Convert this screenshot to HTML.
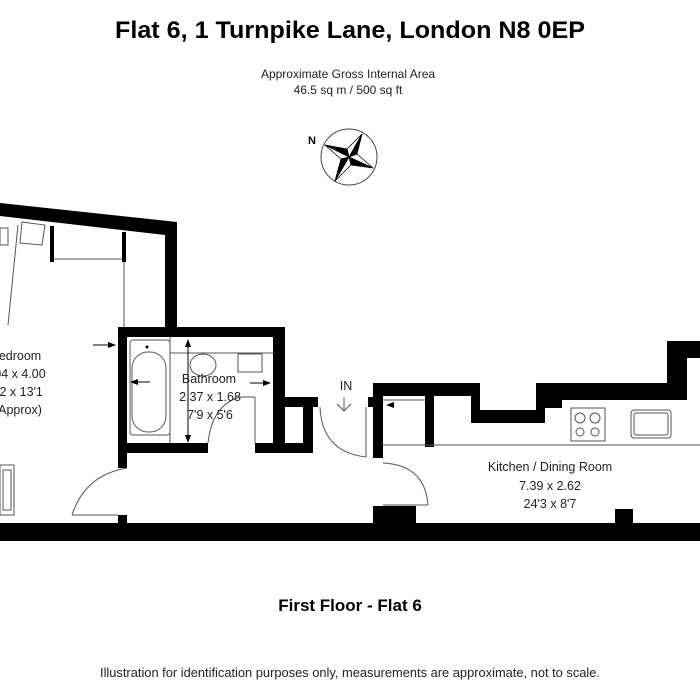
<!DOCTYPE html>
<html><head><meta charset="utf-8"><style>
html,body{margin:0;padding:0;background:#fff;}
svg{display:block;font-family:"Liberation Sans",sans-serif;}
</style></head><body>
<svg width="700" height="700" viewBox="0 0 700 700" xmlns="http://www.w3.org/2000/svg">
<rect width="700" height="700" fill="#fff"/>
<text x="350" y="38" text-anchor="middle" font-size="24" font-weight="bold" textLength="470" lengthAdjust="spacingAndGlyphs">Flat 6, 1 Turnpike Lane, London N8 0EP</text>
<text x="348" y="78" text-anchor="middle" font-size="12" fill="#222">Approximate Gross Internal Area</text>
<text x="348" y="94" text-anchor="middle" font-size="12" fill="#222">46.5 sq m / 500 sq ft</text>
<!-- compass -->
<text x="308" y="144" font-size="11" font-weight="bold">N</text>
<circle cx="349" cy="157" r="28" fill="none" stroke="#444" stroke-width="1"/>
<g stroke="#000" stroke-width="0.8" stroke-linejoin="round">
<polygon points="362,134 357,154 349,157" fill="#000"/>
<polygon points="362,134 347,149 349,157" fill="#fff"/>
<polygon points="373,168 351,165 349,157" fill="#000"/>
<polygon points="373,168 357,154 349,157" fill="#fff"/>
<polygon points="335,181 341,159 349,157" fill="#000"/>
<polygon points="335,181 351,165 349,157" fill="#fff"/>
<polygon points="325,145 347,149 349,157" fill="#000"/>
<polygon points="325,145 341,159 349,157" fill="#fff"/>
</g>
<!-- walls -->
<g fill="#000">
<polygon points="0,203 177,222 177,330 165,330 165,235 0,216"/>
<rect x="118" y="327" width="167" height="10"/>
<rect x="118" y="327" width="9" height="141"/>
<rect x="118" y="515" width="9" height="10"/>
<rect x="273" y="327" width="12" height="126"/>
<rect x="118" y="443" width="90" height="10"/>
<rect x="255" y="443" width="58" height="10"/>
<rect x="273" y="397" width="45" height="10"/>
<rect x="303" y="397" width="10" height="56"/>
<rect x="0" y="523" width="700" height="18"/>
<rect x="373" y="383" width="10" height="75"/>
<rect x="368" y="397" width="8" height="10"/>
<rect x="373" y="383" width="107" height="13"/>
<rect x="471" y="383" width="9" height="40"/>
<rect x="471" y="410" width="74" height="13"/>
<rect x="536" y="383" width="9" height="40"/>
<rect x="536" y="383" width="150" height="17"/>
<rect x="536" y="400" width="26" height="8"/>
<rect x="667" y="341" width="20" height="59"/>
<rect x="667" y="341" width="33" height="17"/>
<rect x="425" y="396" width="9" height="51"/>
<rect x="373" y="506" width="43" height="18"/>
<rect x="615" y="509" width="18" height="15"/>
<rect x="50" y="226" width="4" height="36"/>
<rect x="122" y="232" width="4" height="30"/>
</g>
<g fill="none" stroke="#555" stroke-width="1">
<line x1="54" y1="259" x2="122" y2="259"/>
<line x1="124" y1="262" x2="124" y2="327"/>
<polygon points="22,222 45,225 42,245 20,243"/>
<line x1="18" y1="225" x2="8" y2="325"/>
<polygon points="0,228 8,228 8,245 0,245"/>
<rect x="0" y="465" width="14" height="50"/>
<rect x="3" y="470" width="8" height="40"/>
<rect x="130" y="340" width="40" height="95" rx="3"/>
<rect x="132" y="352" width="34" height="80" rx="16"/>
<line x1="170" y1="337" x2="170" y2="443"/>
<line x1="170" y1="353" x2="273" y2="353"/>
<ellipse cx="203" cy="365" rx="13" ry="11"/>
<rect x="238" y="354" width="24" height="18"/>
<line x1="255" y1="443" x2="255" y2="397"/>
<line x1="255" y1="397" x2="240" y2="397"/>
<path d="M208,443 Q212,405 240,397"/>
<path d="M127,468 Q85,475 72,515"/>
<line x1="72" y1="515" x2="118" y2="515"/>
<path d="M320,407 Q322,452 366,457"/>
<line x1="366" y1="457" x2="366" y2="407"/>
<path d="M383,463 Q425,465 428,505"/>
<line x1="383" y1="505" x2="428" y2="505"/>
<line x1="383" y1="445" x2="700" y2="445"/>
<line x1="383" y1="400" x2="425" y2="400"/>
<rect x="571" y="408" width="34" height="33"/>
<circle cx="580" cy="418" r="5"/><circle cx="595" cy="418" r="5"/>
<circle cx="580" cy="432" r="4"/><circle cx="595" cy="432" r="4"/>
<rect x="631" y="410" width="40" height="28" rx="3"/>
<rect x="634" y="413" width="34" height="22" rx="2"/>
<path d="M344,397 L344,411 M337,404 L344,411 L351,404"/>
</g>
<circle cx="147" cy="347" r="1.5" fill="#000"/>
<g fill="#000">
<line x1="93" y1="345" x2="112" y2="345" stroke="#000"/>
<polygon points="116,345 108,342 108,348"/>
<polygon points="130,382 138,379 138,385"/>
<line x1="138" y1="382" x2="150" y2="382" stroke="#000"/>
<polygon points="271,383 263,380 263,386"/>
<line x1="250" y1="383" x2="263" y2="383" stroke="#000"/>
<line x1="188" y1="345" x2="188" y2="440" stroke="#000"/>
<polygon points="188,339 185,347 191,347"/>
<polygon points="188,443 185,435 191,435"/>
<polygon points="386,405 394,402 394,408"/>
</g>
<g font-size="12.5" fill="#222" text-anchor="middle">
<text x="20" y="360">edroom</text>
<text x="20" y="378">04 x 4.00</text>
<text x="20" y="396">'2 x 13'1</text>
<text x="20" y="414">Approx)</text>
<text x="209" y="383">Bathroom</text>
<text x="210" y="401">2.37 x 1.68</text>
<text x="210" y="419">7'9 x 5'6</text>
<text x="346" y="390">IN</text>
<text x="550" y="471">Kitchen / Dining Room</text>
<text x="550" y="490">7.39 x 2.62</text>
<text x="550" y="508">24'3 x 8'7</text>
</g>
<text x="350" y="611" text-anchor="middle" font-size="17" font-weight="bold">First Floor - Flat 6</text>
<text x="350" y="677" text-anchor="middle" font-size="12.5" fill="#222" textLength="500" lengthAdjust="spacingAndGlyphs">Illustration for identification purposes only, measurements are approximate, not to scale.</text>
</svg>
</body></html>
